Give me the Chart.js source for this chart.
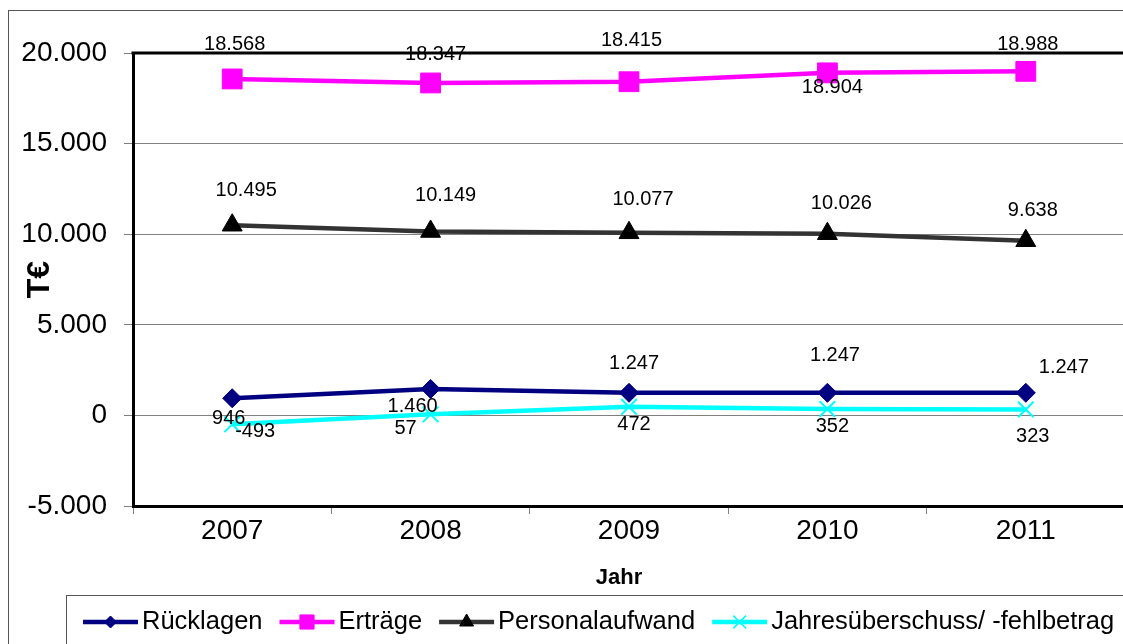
<!DOCTYPE html>
<html>
<head>
<meta charset="utf-8">
<title>Rücklagen, Erträge, Personalaufwand, Jahresergebnis 2007–2011</title>
<script src="https://cdn.jsdelivr.net/npm/chart.js@4/dist/chart.umd.min.js"></script>
<style>
  html, body { margin: 0; padding: 0; background: #fff; overflow: hidden; }
  #wrap { position: absolute; left: 0; top: 0; width: 1140px; height: 644px; }
</style>
</head>
<body>
<div id="wrap"><canvas id="chart"></canvas></div>
<script>
// ---- data (T€) ----
const years = ['2007', '2008', '2009', '2010', '2011'];
const ruecklagen = [946, 1460, 1247, 1247, 1247];
const ertraege = [18568, 18347, 18415, 18904, 18988];
const personalaufwand = [10495, 10149, 10077, 10026, 9638];
const jahresergebnis = [-493, 57, 472, 352, 323];
const seriesNames = ['Rücklagen', 'Erträge', 'Personalaufwand', 'Jahresüberschuss/ -fehlbetrag'];
const yTicks = [-5000, 0, 5000, 10000, 15000, 20000];
const xTitle = 'Jahr';
const yTitle = 'T€';

// German thousands separator
function fmt(v) {
  const s = Math.abs(v).toString().replace(/\B(?=(\d{3})+(?!\d))/g, '.');
  return (v < 0 ? '-' : '') + s;
}

const FONT = '"Liberation Sans", Arial, Helvetica, sans-serif';
Chart.defaults.font.family = FONT;
Chart.defaults.color = '#000';

// value label placement relative to each point (dx, dy in px)
const labelOffsets = [
  [[-3.5, 20.6], [-18, 18], [5, -29], [7.5, -37.5], [38, -25]],
  [[2.5, -34], [5, -28.5], [2.5, -41], [5, 15], [2, -26.5]],
  [[14, -35], [15, -36], [14, -33], [14, -30], [7, -30]],
  [[23, 7.6], [-25, 14.5], [5, 18], [5, 17], [7, 27]]
];

// legend marker sizes
const legendMarks = [
  { r: 6, bw: 1 },
  { r: 10, bw: 1 },
  { r: 8, bw: 1 },
  { r: 9, bw: 1.5 }
];

function drawMarker(ctx, style, x, y, r) {
  ctx.beginPath();
  if (style === 'rectRot') {
    ctx.moveTo(x - r, y); ctx.lineTo(x, y - r); ctx.lineTo(x + r, y); ctx.lineTo(x, y + r);
    ctx.closePath(); ctx.fill(); ctx.stroke();
  } else if (style === 'rect') {
    const s = r * Math.SQRT1_2;
    ctx.rect(x - s, y - s, 2 * s, 2 * s); ctx.fill(); ctx.stroke();
  } else if (style === 'triangle') {
    ctx.moveTo(x, y - r);
    ctx.lineTo(x + r * 0.866, y + r * 0.5);
    ctx.lineTo(x - r * 0.866, y + r * 0.5);
    ctx.closePath(); ctx.fill(); ctx.stroke();
  } else if (style === 'crossRot') {
    const s = r * Math.SQRT1_2;
    ctx.moveTo(x - s, y - s); ctx.lineTo(x + s, y + s);
    ctx.moveTo(x + s, y - s); ctx.lineTo(x - s, y + s);
    ctx.stroke();
  }
}

// white background, outer frame, plot top edge and x-axis title
const frame = {
  id: 'frame',
  beforeDraw(chart) {
    const ctx = chart.ctx;
    ctx.save();
    ctx.fillStyle = '#fff';
    ctx.fillRect(0, 0, chart.width, chart.height);
    ctx.strokeStyle = '#555';
    ctx.lineWidth = 1;
    ctx.strokeRect(8.5, 10.5, chart.width + 50, chart.height + 50);
    ctx.restore();
  },
  afterDraw(chart) {
    const { left, right, top } = chart.chartArea;
    const ctx = chart.ctx;
    ctx.save();
    ctx.strokeStyle = '#000';
    ctx.lineWidth = 3;
    ctx.beginPath();
    ctx.moveTo(left - 1.5, top);
    ctx.lineTo(right, top);
    ctx.stroke();
    ctx.font = 'bold 22px ' + FONT;
    ctx.fillStyle = '#000';
    ctx.textAlign = 'center';
    ctx.textBaseline = 'middle';
    ctx.fillText(xTitle, 619, 578);
    ctx.restore();
  }
};

// value labels next to each point
const valueLabels = {
  id: 'valueLabels',
  afterDatasetsDraw(chart) {
    const ctx = chart.ctx;
    ctx.save();
    ctx.font = '20px ' + FONT;
    ctx.fillStyle = '#000';
    ctx.textAlign = 'center';
    ctx.textBaseline = 'middle';
    chart.data.datasets.forEach((ds, i) => {
      const meta = chart.getDatasetMeta(i);
      meta.data.forEach((pt, j) => {
        const off = labelOffsets[i][j];
        ctx.fillText(fmt(ds.data[j]), pt.x + off[0], pt.y + off[1]);
      });
    });
    ctx.restore();
  }
};

// boxed legend along the bottom
const boxLegend = {
  id: 'boxLegend',
  afterDraw(chart) {
    const ctx = chart.ctx;
    ctx.save();
    ctx.fillStyle = '#fff';
    ctx.fillRect(66.5, 595.5, chart.width, 100);
    ctx.strokeStyle = '#555';
    ctx.lineWidth = 1;
    ctx.strokeRect(66.5, 595.5, chart.width + 50, 100);
    ctx.font = '25.5px ' + FONT;
    ctx.textBaseline = 'middle';
    ctx.textAlign = 'left';
    const y = 622;
    let x = 83;
    chart.data.datasets.forEach((ds, i) => {
      ctx.strokeStyle = ds.borderColor;
      ctx.lineWidth = 4.5;
      ctx.beginPath();
      ctx.moveTo(x, y);
      ctx.lineTo(x + 55, y);
      ctx.stroke();
      ctx.fillStyle = ds.pointBackgroundColor;
      ctx.strokeStyle = ds.pointBorderColor;
      ctx.lineWidth = legendMarks[i].bw;
      drawMarker(ctx, ds.pointStyle, x + 27.5, y, legendMarks[i].r);
      ctx.fillStyle = '#000';
      ctx.fillText(ds.label, x + 59, y);
      x += 59 + ctx.measureText(ds.label).width + 17;
    });
    ctx.restore();
  }
};

new Chart(document.getElementById('chart'), {
  type: 'line',
  data: {
    labels: years,
    datasets: [
      {
        label: seriesNames[0], data: ruecklagen,
        borderColor: '#000080', borderWidth: 4.5,
        pointStyle: 'rectRot', pointRadius: 9.5, pointBorderWidth: 1,
        pointBackgroundColor: '#000080', pointBorderColor: '#000080'
      },
      {
        label: seriesNames[1], data: ertraege,
        borderColor: '#FF00FF', borderWidth: 4.5,
        pointStyle: 'rect', pointRadius: 14, pointBorderWidth: 1,
        pointBackgroundColor: '#FF00FF', pointBorderColor: '#FF00FF'
      },
      {
        label: seriesNames[2], data: personalaufwand,
        borderColor: '#333333', borderWidth: 4.5,
        pointStyle: 'triangle', pointRadius: 11.5, pointBorderWidth: 1,
        pointBackgroundColor: '#000000', pointBorderColor: '#000000'
      },
      {
        label: seriesNames[3], data: jahresergebnis,
        borderColor: '#00FFFF', borderWidth: 4.5,
        pointStyle: 'crossRot', pointRadius: 11, pointBorderWidth: 2,
        pointBackgroundColor: '#00FFFF', pointBorderColor: '#00FFFF'
      }
    ]
  },
  options: {
    responsive: true,
    maintainAspectRatio: false,
    animation: false,
    devicePixelRatio: 1,
    layout: { padding: { left: 8, top: 53, right: 12, bottom: 48 } },
    plugins: { legend: { display: false }, tooltip: { enabled: false } },
    elements: { line: { tension: 0 } },
    scales: {
      x: {
        offset: true,
        grid: { offset: true, drawOnChartArea: false, tickLength: 8, color: '#808080' },
        border: { color: '#000', width: 3 },
        ticks: { font: { size: 28 }, color: '#000', padding: 0, maxRotation: 0, autoSkip: false },
        afterFit(scale) { scale.height = 90; }
      },
      y: {
        min: yTicks[0],
        max: yTicks[yTicks.length - 1],
        afterBuildTicks(scale) { scale.ticks = yTicks.map(v => ({ value: v })); },
        grid: { color: '#808080', lineWidth: 1, tickLength: 9 },
        border: { color: '#000', width: 3 },
        ticks: { font: { size: 28 }, color: '#000', padding: 17, callback: v => fmt(v) },
        title: { display: true, text: yTitle, color: '#000', font: { size: 32, weight: 'bold' }, padding: { top: 13, bottom: 0 } },
        afterFit(scale) { scale.width = 125; }
      }
    }
  },
  plugins: [frame, valueLabels, boxLegend]
});
</script>
</body>
</html>
